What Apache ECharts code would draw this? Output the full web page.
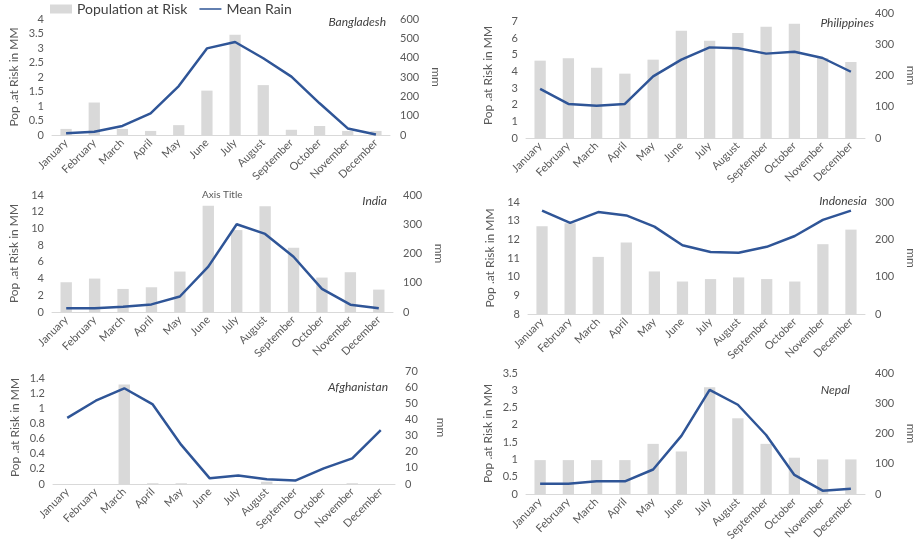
<!DOCTYPE html>
<html>
<head>
<meta charset="utf-8">
<title>Population at Risk and Mean Rain</title>
<script src="https://cdn.jsdelivr.net/npm/echarts@6/dist/echarts.min.js"></script>
<style>
  html, body { margin: 0; padding: 0; background: #fff; }
  #chart { width: 918px; height: 552px; }
</style>
</head>
<body>
<div id="chart"></div>
<script>
const months = ['January', 'February', 'March', 'April', 'May', 'June', 'July', 'August', 'September', 'October', 'November', 'December']

// population at risk (MM) and mean rain (mm) per country
const bangladeshPop = [0.21, 1.12, 0.21, 0.14, 0.34, 1.53, 3.46, 1.72, 0.18, 0.31, 0.14, 0.14]
const bangladeshRain = [9, 17, 47, 112, 253, 448, 481, 397, 302, 164, 34, 3]
const philippinesPop = [4.64, 4.78, 4.22, 3.86, 4.7, 6.44, 5.84, 6.3, 6.68, 6.86, 4.8, 4.56]
const philippinesRain = [157, 109, 103, 109, 197, 251, 290, 287, 270, 276, 256, 212]
const indiaPop = [3.56, 4.0, 2.76, 2.96, 4.84, 12.72, 9.8, 12.64, 7.68, 4.12, 4.76, 2.68]
const indiaRain = [13, 13, 18, 26, 53, 155, 300, 267, 189, 79, 25, 13]
const indonesiaPop = [12.7, 12.86, 11.06, 11.83, 10.28, 9.74, 9.87, 9.96, 9.87, 9.74, 11.74, 12.52]
const indonesiaRain = [277, 244, 273, 264, 234, 184, 166, 164, 180, 209, 252, 277]
const afghanistanPop = [0, 0, 1.32, 0.01, 0.01, 0, 0, 0.03, 0, 0, 0.01, 0]
const afghanistanRain = [41, 51.6, 59.3, 49.3, 24.2, 3.5, 5.2, 2.9, 2.1, 9.7, 15.9, 33.4]
const nepalPop = [0.98, 0.98, 0.98, 0.98, 1.45, 1.23, 3.09, 2.19, 1.45, 1.05, 1.0, 1.0]
const nepalRain = [34, 34, 42, 42, 81, 192, 344, 295, 195, 63, 11, 17]

const textColor = '#595959'
const barColor = '#d9d9d9'
const lineColor = '#2f5597'
const font = 'Lato, "Open Sans", sans-serif'

const panels = [
  { name: 'Bangladesh', pop: bangladeshPop, rain: bangladeshRain,
    grid: { left: 52, top: 19, width: 338, height: 116 },
    left: { min: 0, max: 4, interval: 0.5 }, right: { min: 0, max: 600, interval: 100 },
    title: { right: 532, top: 16 } },
  { name: 'Philippines', pop: philippinesPop, rain: philippinesRain,
    grid: { left: 526, top: 13, width: 341, height: 125 },
    left: { min: 0, max: 7.5, interval: 1, hideMax: true }, right: { min: 0, max: 400, interval: 100 },
    title: { right: 44, top: 17 } },
  { name: 'India', pop: indiaPop, rain: indiaRain,
    grid: { left: 52, top: 195, width: 341, height: 117 },
    left: { min: 0, max: 14, interval: 2 }, right: { min: 0, max: 400, interval: 100 },
    title: { right: 531, top: 195 } },
  { name: 'Indonesia', pop: indonesiaPop, rain: indonesiaRain,
    grid: { left: 528, top: 202, width: 339, height: 112 },
    left: { min: 8, max: 14, interval: 1 }, right: { min: 0, max: 300, interval: 100 },
    title: { right: 51, top: 195 } },
  { name: 'Afghanistan', pop: afghanistanPop, rain: afghanistanRain,
    grid: { left: 53, top: 371, width: 342, height: 113 },
    left: { min: 0, max: 1.5, interval: 0.2, hideMax: true }, right: { min: 0, max: 70, interval: 10 },
    title: { right: 530, top: 381 } },
  { name: 'Nepal', pop: nepalPop, rain: nepalRain,
    grid: { left: 526, top: 373, width: 341, height: 121 },
    left: { min: 0, max: 3.5, interval: 0.5 }, right: { min: 0, max: 400, interval: 100 },
    title: { right: 68, top: 384 } }
]

const grid = []
const xAxis = []
const yAxis = []
const series = []
const title = []

panels.forEach((p, i) => {
  grid.push(p.grid)
  xAxis.push({
    type: 'category',
    gridIndex: i,
    data: months,
    axisLine: { lineStyle: { color: barColor, width: 1 } },
    axisTick: { show: false },
    axisLabel: { rotate: 45, color: textColor, fontSize: 11, fontFamily: font, margin: 6, interval: 0 },
    splitLine: { show: false }
  })
  yAxis.push({
    type: 'value',
    gridIndex: i,
    position: 'left',
    min: p.left.min,
    max: p.left.max,
    interval: p.left.interval,
    name: 'Pop .at Risk in MM',
    nameLocation: 'middle',
    nameGap: 32,
    nameTextStyle: { color: textColor, fontSize: 12, fontFamily: font },
    axisLine: { show: false },
    axisTick: { show: false },
    splitLine: { show: false },
    axisLabel: { color: textColor, fontSize: 11, fontFamily: font, margin: 8, showMaxLabel: !p.left.hideMax }
  })
  yAxis.push({
    type: 'value',
    gridIndex: i,
    position: 'right',
    min: p.right.min,
    max: p.right.max,
    interval: p.right.interval,
    name: 'mm',
    nameLocation: 'middle',
    nameRotate: -90,
    nameGap: 40,
    nameTextStyle: { color: textColor, fontSize: 12, fontFamily: font },
    axisLine: { show: false },
    axisTick: { show: false },
    splitLine: { show: false },
    axisLabel: { color: textColor, fontSize: 11, fontFamily: font, margin: 10 }
  })
  series.push({
    name: 'Population at Risk',
    type: 'bar',
    xAxisIndex: i,
    yAxisIndex: i * 2,
    data: p.pop,
    barWidth: '40%',
    itemStyle: { color: barColor },
    silent: true
  })
  series.push({
    name: 'Mean Rain',
    type: 'line',
    xAxisIndex: i,
    yAxisIndex: i * 2 + 1,
    data: p.rain,
    symbol: 'none',
    lineStyle: { color: lineColor, width: 2.5 },
    itemStyle: { color: lineColor },
    z: 3
  })
  title.push({
    text: p.name,
    right: p.title.right,
    top: p.title.top,
    padding: 0,
    textStyle: { color: '#404040', fontSize: 12, fontStyle: 'italic', fontWeight: 'normal', fontFamily: font }
  })
})

title.push({
  text: 'Axis Title',
  left: 202,
  top: 190,
  padding: 0,
  textStyle: { color: textColor, fontSize: 10, fontWeight: 'normal', fontFamily: font }
})

// plain line swatch for the rain entry (tiny points keep the box 22x9)
const lineIcon = 'path://M0,0L0.01,0Z M0,3.7H22V5.3H0Z M0,9L0.01,9Z'

const chart = echarts.init(document.getElementById('chart'))
chart.setOption({
  animation: false,
  backgroundColor: '#fff',
  title: title,
  legend: {
    left: 50,
    top: 2,
    padding: 0,
    itemGap: 12,
    itemWidth: 22,
    itemHeight: 9,
    textStyle: { color: '#404040', fontSize: 14, fontFamily: font },
    data: [
      { name: 'Population at Risk', icon: 'rect' },
      { name: 'Mean Rain', icon: lineIcon, itemStyle: { color: lineColor } }
    ]
  },
  grid: grid,
  xAxis: xAxis,
  yAxis: yAxis,
  series: series
})
</script>
</body>
</html>
